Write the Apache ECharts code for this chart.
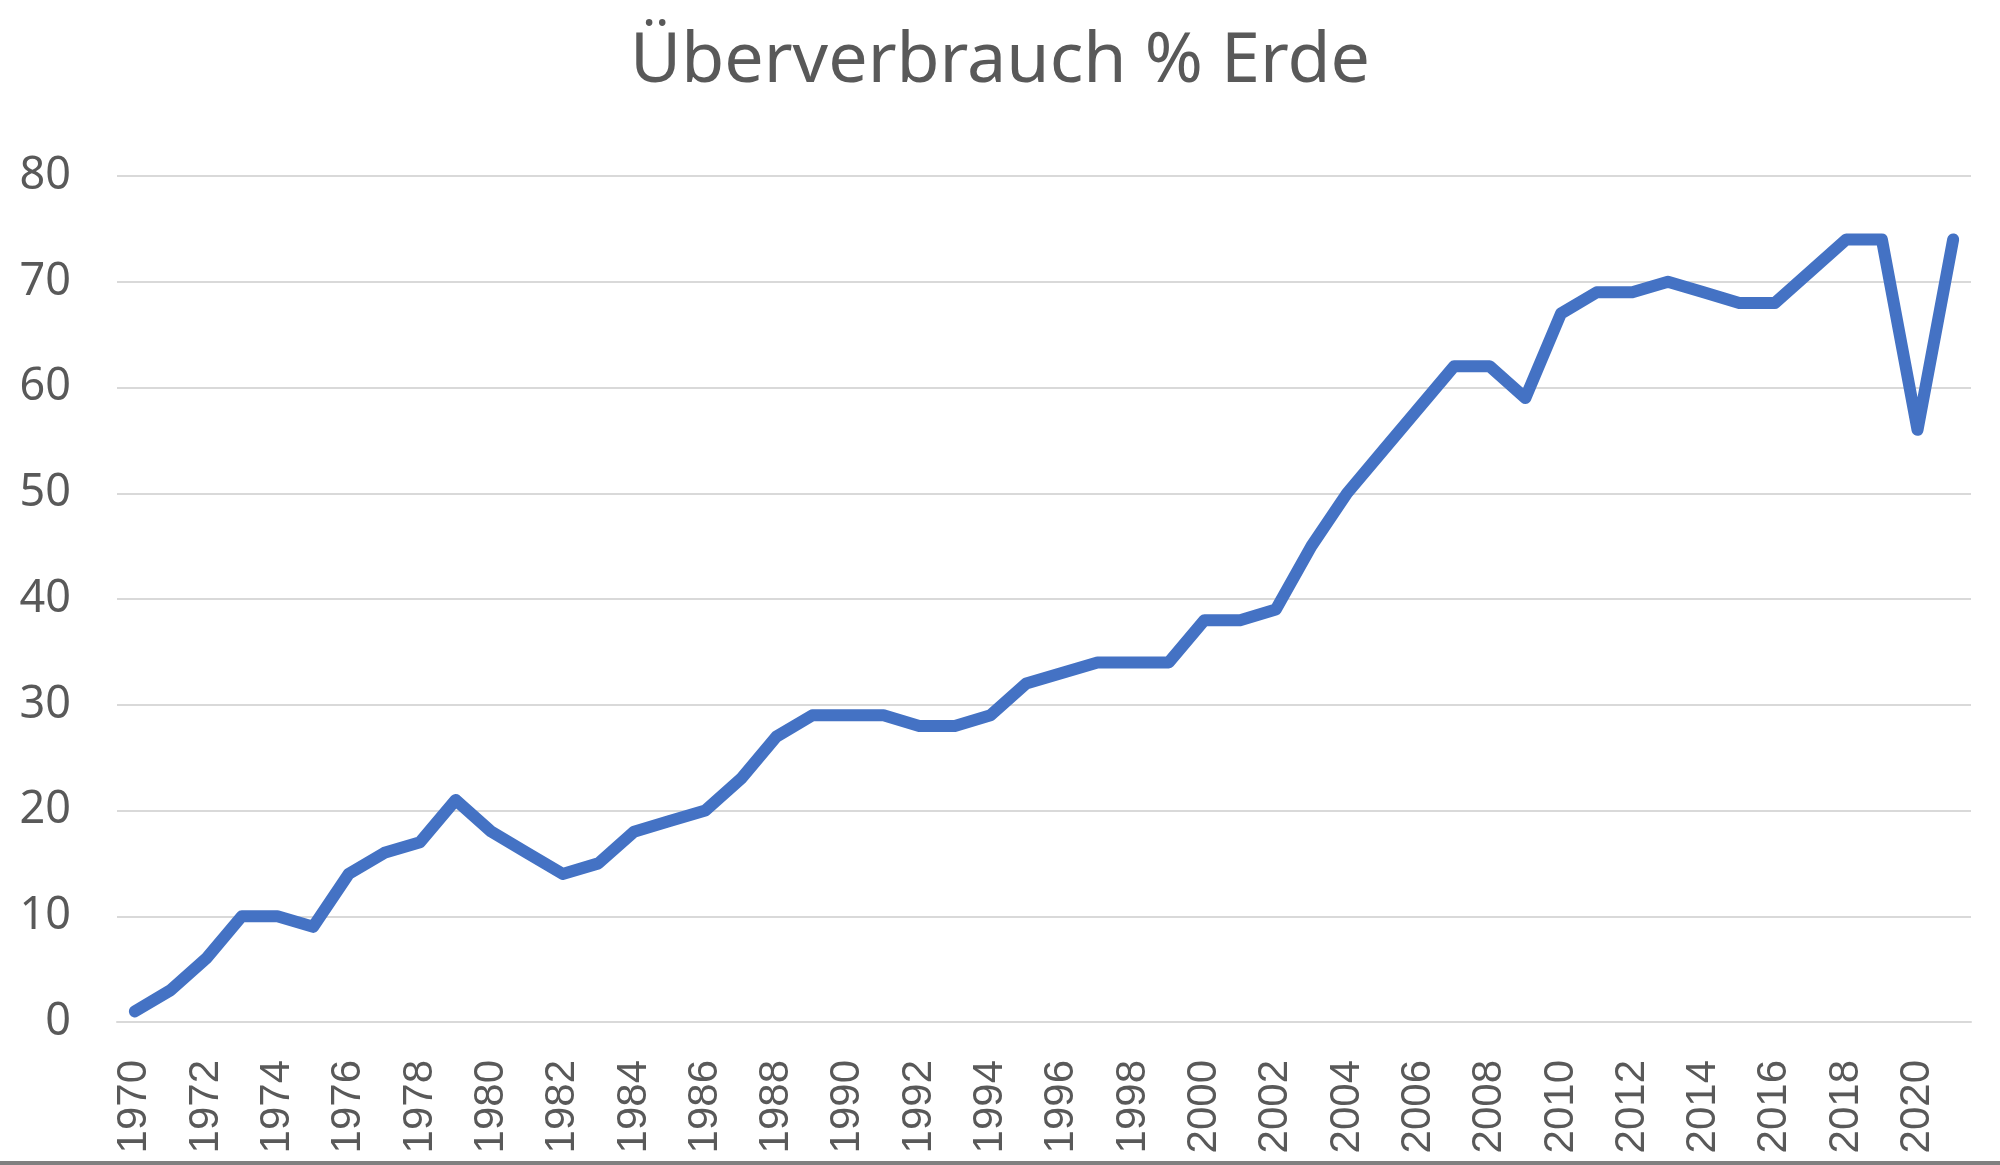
<!DOCTYPE html>
<html>
<head>
<meta charset="utf-8">
<script src="https://cdn.jsdelivr.net/npm/echarts@6/dist/echarts.min.js"></script>
<style>html,body{margin:0;padding:0;background:#fff}#c{width:2000px;height:1165px}</style>
</head>
<body>
<div id="c"></div>
<script>
const years = [];
for (let y = 1970; y <= 2021; y++) years.push(String(y));
const values = [1,3,6,10,10,9,14,16,17,21,18,16,14,15,18,19,20,23,27,29,29,29,28,28,29,32,33,34,34,34,38,38,39,45,50,54,58,62,62,59,67,69,69,70,69,68,68,71,74,74,56,74];
const yTicks = [0,10,20,30,40,50,60,70,80];
const titleText = 'Überverbrauch % Erde';

const chart = echarts.init(document.getElementById('c'));
chart.setOption({
  backgroundColor: '#ffffff',
  animation: false,
  title: {
    text: titleText,
    left: 'center',
    top: 22,
    textStyle: { fontFamily: 'Noto Sans', fontSize: 70, fontWeight: 'normal', color: '#595959' }
  },
  grid: { left: 117, right: 29, top: 176, bottom: 143 },
  xAxis: {
    type: 'category',
    data: years,
    boundaryGap: true,
    axisLine: { lineStyle: { color: '#d9d9d9', width: 2 } },
    axisTick: { show: false },
    axisLabel: {
      rotate: 90,
      interval: 1,
      margin: 38,
      fontFamily: 'Liberation Sans',
      fontSize: 42,
      color: '#595959'
    }
  },
  yAxis: {
    type: 'value',
    min: yTicks[0],
    max: yTicks[yTicks.length - 1],
    interval: 10,
    axisLine: { show: false },
    axisTick: { show: false },
    splitLine: { lineStyle: { color: '#d9d9d9', width: 2 } },
    axisLabel: {
      margin: 46,
      fontFamily: 'Noto Sans',
      fontSize: 45,
      color: '#595959'
    }
  },
  series: [{
    type: 'line',
    data: values,
    symbol: 'none',
    lineStyle: { color: '#4472c4', width: 12, join: 'round', cap: 'round' }
  }],
  graphic: [{
    type: 'rect',
    shape: { x: 0, y: 1161, width: 2000, height: 4 },
    style: { fill: '#808080' }
  }]
});
</script>
</body>
</html>
